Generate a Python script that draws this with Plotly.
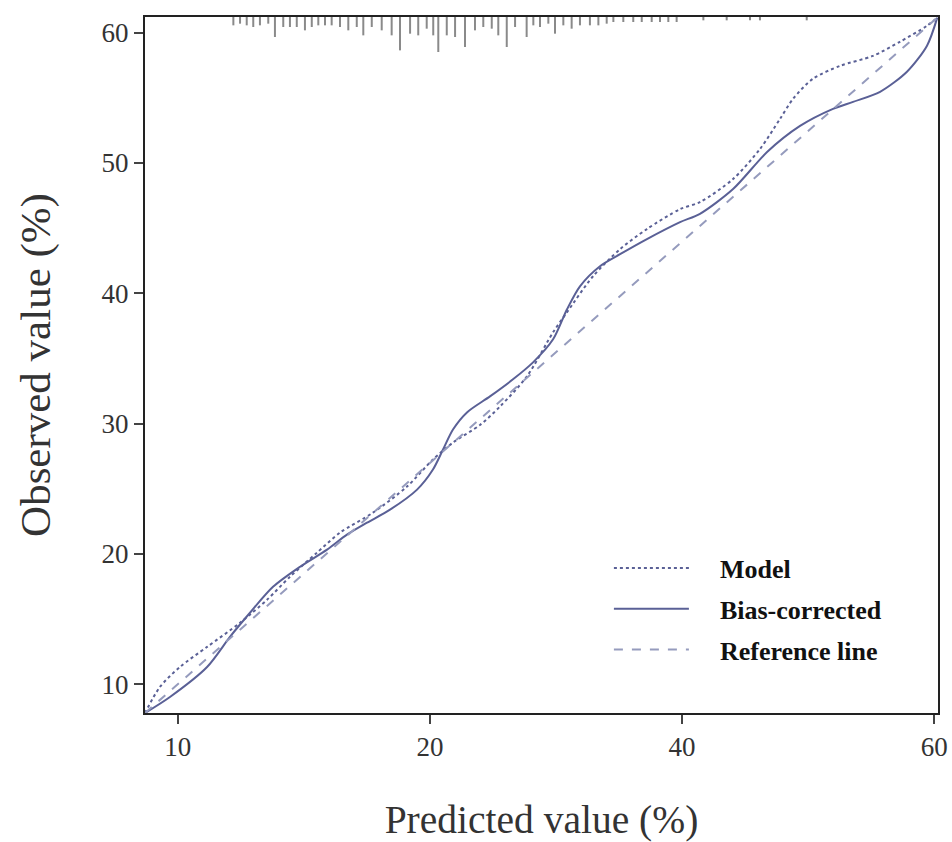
import plotly.graph_objects as go
import numpy as np

# ---------------- data ----------------
# Bias-corrected calibration curve
bias_x = [7.8, 9.48, 11.98, 13.52, 14.87, 16.42, 18.24, 20.06, 21.40, 22.75, 24.30, 26.12, 27.19, 27.87,
          28.54, 29.48, 31.03, 32.58, 33.93, 35.28, 36.22, 37.09, 38.44, 39.79, 41.60, 43.83, 45.17,
          47.40, 49.69, 51.91, 54.13, 55.48, 57.30, 59.11, 60.46, 61.15]
bias_y = [7.8, 9.03, 11.33, 13.64, 15.49, 17.48, 19.02, 20.33, 21.48, 22.40, 23.40, 24.94, 26.48, 28.02,
          29.55, 30.86, 32.09, 33.40, 34.70, 36.47, 38.78, 40.54, 42.08, 43.00, 44.16, 45.46, 46.10,
          48.00, 50.84, 52.84, 54.15, 54.69, 55.46, 57.00, 59.00, 61.15]

# Apparent (model) calibration curve
model_x = [7.8, 8.81, 10.16, 11.98, 14.20, 16.02, 17.56, 19.38, 20.93, 23.15, 25.44, 27.19, 28.54,
           30.36, 31.71, 33.52, 35.28, 36.22, 37.97, 39.79, 41.60, 43.83, 45.17, 47.40, 49.21, 50.56,
           51.44, 52.78, 54.60, 56.82, 58.64, 60.46, 61.15]
model_y = [7.8, 9.80, 11.34, 12.87, 14.72, 16.49, 18.25, 20.10, 21.64, 23.17, 25.17, 27.25, 28.55,
           29.90, 31.32, 33.63, 37.01, 38.55, 41.31, 43.39, 44.93, 46.46, 47.00, 48.77, 51.07, 53.38,
           54.92, 56.46, 57.45, 58.22, 59.30, 60.53, 61.15]

# Reference (ideal) line
ref_x = [7.8, 61.15]
ref_y = [7.8, 61.15]

# Rug of predicted values (frequency per position)
rug_x = [13.75, 14.20, 14.65, 15.09, 15.54, 16.10, 16.55, 17.11, 17.56, 18.02, 18.57, 19.03, 19.47,
         19.92, 20.37, 20.93, 21.49, 22.06, 22.50, 23.07, 23.74, 24.41, 24.97, 25.65, 26.20, 26.77,
         27.21, 27.55, 28.12, 28.68, 29.35, 30.02, 30.58, 31.15, 31.59, 32.16, 32.72, 33.50, 33.95,
         34.40, 34.96, 35.41, 35.97, 36.53, 37.09, 37.76, 38.33, 38.89, 39.34, 40.01, 40.68, 41.25,
         41.92, 42.48, 43.04, 43.60, 45.40, 46.97, 48.54, 49.21, 52.36]
rug_n = [5, 4, 5, 6, 5, 4, 12, 6, 6, 6, 8, 6, 5,
         5, 5, 6, 8, 6, 11, 6, 8, 11, 20, 10, 11, 7,
         11, 21, 11, 12, 18, 8, 6, 7, 11, 18, 6, 12, 5,
         6, 4, 10, 5, 7, 5, 5, 5, 4, 3, 3, 3, 3,
         3, 3, 3, 3, 2, 2, 2, 2, 2]

series_names = ["Model", "Bias-corrected", "Reference line"]
x_tick_labels = ["10", "20", "40", "60"]
y_tick_vals = [10, 20, 30, 40, 50, 60]

# ---------------- styling ----------------
AX_MIN, AX_MAX = 7.8, 61.2
RUG_UNIT = 0.128
LINE_COL = "#5a6096"
REF_COL = "#959bbd"
RUG_COL = "#8a8a8a"
SERIF = "Liberation Serif, Times New Roman, serif"
PAD = "\u00a0" * 4  # gap between legend sample line and its label

rx, ry = [], []
for xv, nv in zip(rug_x, rug_n):
    rx += [xv, xv, None]
    ry += [AX_MAX, AX_MAX - nv * RUG_UNIT, None]

fig = go.Figure()
fig.add_trace(go.Scatter(x=rx, y=ry, mode="lines", line=dict(color=RUG_COL, width=2),
                         showlegend=False, hoverinfo="skip"))
fig.add_trace(go.Scatter(x=model_x, y=model_y, mode="lines", name=PAD + series_names[0], legendgroup="a",
                         line=dict(color=LINE_COL, width=2, dash="dot", shape="spline", smoothing=0.8)))
fig.add_trace(go.Scatter(x=bias_x, y=bias_y, mode="lines", name=PAD + series_names[1], legendgroup="b",
                         line=dict(color=LINE_COL, width=2, shape="spline", smoothing=0.8)))
fig.add_trace(go.Scatter(x=ref_x, y=ref_y, mode="lines", name=PAD + series_names[2], legendgroup="c",
                         line=dict(color=REF_COL, width=2, dash="dash")))

x_tick_pos = list(np.linspace(10, 60.95, len(x_tick_labels)))

fig.update_layout(
    width=952, height=842,
    margin=dict(l=145, r=14, t=17, b=129),
    plot_bgcolor="white", paper_bgcolor="white",
    font=dict(family=SERIF, color="#222222"),
    legend=dict(x=0.585, y=0.242, xanchor="left", yanchor="top",
                font=dict(family=SERIF, size=26, color="#111111", weight="bold"),
                itemwidth=75, tracegroupgap=4, bgcolor="rgba(0,0,0,0)"),
    xaxis=dict(range=[AX_MIN, AX_MAX], tickmode="array", tickvals=x_tick_pos, ticktext=x_tick_labels,
               automargin=False,
               showgrid=False, zeroline=False, showline=True, linecolor="#222", linewidth=2, mirror=True,
               ticks="outside", ticklen=9, tickwidth=1.5, tickcolor="#444",
               tickfont=dict(size=27, family=SERIF, color="#333"),
               title=dict(text="Predicted value (%)", font=dict(size=39.5, family=SERIF, color="#333"), standoff=60)),
    yaxis=dict(range=[AX_MIN, AX_MAX], tickmode="array", tickvals=y_tick_vals,
               automargin=False,
               showgrid=False, zeroline=False, showline=True, linecolor="#222", linewidth=2, mirror=True,
               ticks="outside", ticklen=9, tickwidth=1.5, tickcolor="#444",
               tickfont=dict(size=27, family=SERIF, color="#333"),
               title=dict(text="Observed value (%)", font=dict(size=43, family=SERIF, color="#333"), standoff=38)),
)

fig.write_html("out.html")
